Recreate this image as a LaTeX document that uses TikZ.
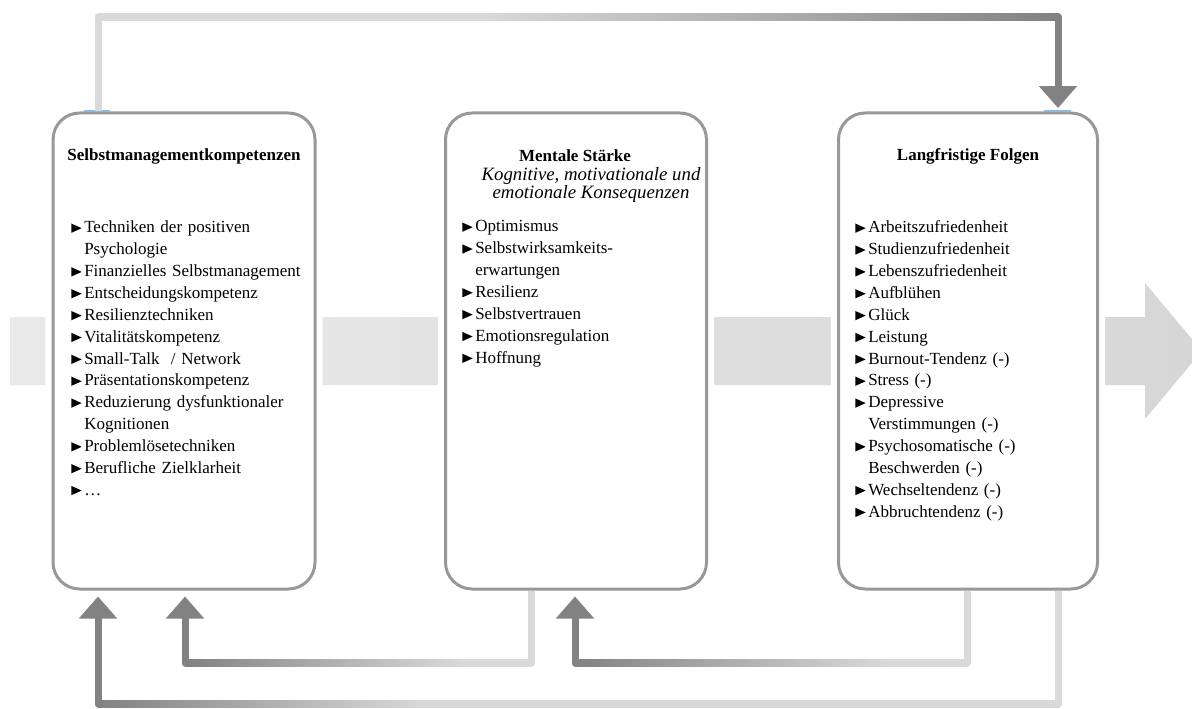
\documentclass[tikz,border=0pt]{standalone}
\usepackage{fontspec}
\setmainfont{Liberation Serif}
\usetikzlibrary{arrows.meta,calc}
\definecolor{boxc}{HTML}{989898}
\definecolor{darkc}{HTML}{828282}
\definecolor{lightc}{HTML}{D9D9D9}
\definecolor{bandL}{HTML}{EAEAEA}
\definecolor{bandR}{HTML}{D6D6D6}
\definecolor{markc}{HTML}{8DB8E2}
\pgfdeclarehorizontalshading{topgrad}{100bp}{color(0bp)=(lightc); color(25bp)=(lightc); color(45bp)=(lightc); color(75bp)=(darkc); color(100bp)=(darkc)}
\pgfdeclarehorizontalshading{gradA}{100bp}{color(0bp)=(darkc); color(25bp)=(darkc); color(42bp)=(lightc); color(100bp)=(lightc)}
\pgfdeclarehorizontalshading{gradB}{100bp}{color(0bp)=(darkc); color(25bp)=(darkc); color(65bp)=(lightc); color(100bp)=(lightc)}
\newlength\hangw
\setlength\hangw{9.75pt}
\newcommand\blt{\tikz[baseline=0pt]\fill[black] (0pt,0pt)--(0pt,7pt)--(7.8pt,3.5pt)--cycle;}
\newcommand\itm[1]{\par\noindent\hangindent=\hangw\hangafter=1\makebox[\hangw][l]{\blt}\strut#1}
\newcommand\nl{\hfil\break}
\begin{document}
\begin{tikzpicture}[x=0.75pt,y=-0.75pt,
  box/.style={draw=boxc, line width=2.25pt, fill=white, rounded corners=20pt,
    preaction={draw=white, line width=11.5pt}, inner sep=0pt},
  conn/.style={line width=5.25pt, line join=round},
  tip/.style={-{Triangle[length=16.5pt,width=27.75pt]}},
  titlen/.style={anchor=base, inner sep=0pt, font=\fontsize{12.75pt}{16.4pt}\selectfont\bfseries},
  subn/.style={anchor=base, inner sep=0pt, font=\fontsize{14.1pt}{16pt}\selectfont\itshape},
  listn/.style={anchor=north west, inner sep=0pt, text width=180pt, align=left,
    font=\fontsize{12.75pt}{16.4pt}\selectfont}]
\useasboundingbox (0,0) rectangle (1192,709);
% background arrow
\shade[left color=bandL, right color=bandR] (10,317) -- (1145,317) -- (1145,283) -- (1202,351) -- (1145,419) -- (1145,385) -- (10,385) -- cycle;
% boxes
\node[box, minimum width=262*0.75pt, minimum height=476*0.75pt] (b1) at (184,351) {};
\node[box, minimum width=261*0.75pt, minimum height=476*0.75pt] (b2) at (576,351) {};
\node[box, minimum width=259*0.75pt, minimum height=476*0.75pt] (b3) at (968,351) {};
\draw[markc, line width=1.2pt] (84,111) -- (110,111);
\draw[markc, line width=1.2pt] (1044,111) -- (1071,111);
% coordinates
\coordinate (xa) at (98,0);
\coordinate (xb) at (185,0);
\coordinate (xc) at (531,0);
\coordinate (xd) at (575,0);
\coordinate (xe) at (967,0);
\coordinate (xf) at (1058,0);
\coordinate (yt) at (0,17);
\coordinate (ym) at (0,663);
\coordinate (yb) at (0,704);
% top connector b1 -> b3
\draw[conn, lightc] (b1.north -| xa) -- (xa |- yt) -- ($(xa |- yt)+(1,0)$);
\shade[shading=topgrad] ($(xa |- yt)+(0,-3.5)$) rectangle ($(xf |- yt)+(0,3.5)$);
\draw[conn, darkc, tip, shorten >=2.6pt] ($(xf |- yt)+(-1,0)$) -- (xf |- yt) -- (b3.north -| xf);
% bottom long connector b3 -> b1
\draw[conn, lightc] (b3.south -| xf) -- (xf |- yb) -- ($(xf |- yb)+(-1,0)$);
\shade[shading=gradA] ($(xa |- yb)+(0,-3.5)$) rectangle ($(xf |- yb)+(0,3.5)$);
\draw[conn, darkc, tip, shorten >=4.5pt] ($(xa |- yb)+(1,0)$) -- (xa |- yb) -- (b1.south -| xa);
% b2 -> b1
\draw[conn, lightc] (b2.south -| xc) -- (xc |- ym) -- ($(xc |- ym)+(-1,0)$);
\shade[shading=gradB] ($(xb |- ym)+(0,-3.5)$) rectangle ($(xc |- ym)+(0,3.5)$);
\draw[conn, darkc, tip, shorten >=4.5pt] ($(xb |- ym)+(1,0)$) -- (xb |- ym) -- (b1.south -| xb);
% b3 -> b2
\draw[conn, lightc] (b3.south -| xe) -- (xe |- ym) -- ($(xe |- ym)+(-1,0)$);
\shade[shading=gradB] ($(xd |- ym)+(0,-3.5)$) rectangle ($(xe |- ym)+(0,3.5)$);
\draw[conn, darkc, tip, shorten >=4.5pt] ($(xd |- ym)+(1,0)$) -- (xd |- ym) -- (b2.south -| xd);
% texts box 1
\node[titlen] (t1) at (184,161) {Selbstmanagementkompetenzen};
\node[listn] (l1) at (71,210.7) {%
\itm{Techniken der positiven\nl Psychologie}
\itm{Finanzielles Selbstmanagement}
\itm{Entscheidungskompetenz}
\itm{Resilienztechniken}
\itm{Vitalitätskompetenz}
\itm{Small-Talk \ / Network}
\itm{Präsentationskompetenz}
\itm{Reduzierung dysfunktionaler\nl Kognitionen}
\itm{Problemlösetechniken}
\itm{Berufliche Zielklarheit}
\itm{…}};
% texts box 2
\node[titlen] (t2) at (575,162) {Mentale Stärke};
\node[subn] (s2a) at (591,181) {Kognitive, motivationale und};
\node[subn] (s2b) at (591,199) {emotionale Konsequenzen};
\node[listn] (l2) at (462,209.7) {%
\itm{Optimismus}
\itm{Selbstwirksamkeits-\nl erwartungen}
\itm{Resilienz}
\itm{Selbstvertrauen}
\itm{Emotionsregulation}
\itm{Hoffnung}};
% texts box 3
\node[titlen] (t3) at (968,161) {Langfristige Folgen};
\node[listn] (l3) at (855,210.7) {%
\itm{Arbeitszufriedenheit}
\itm{Studienzufriedenheit}
\itm{Lebenszufriedenheit}
\itm{Aufblühen}
\itm{Glück}
\itm{Leistung}
\itm{Burnout-Tendenz (-)}
\itm{Stress (-)}
\itm{Depressive\nl Verstimmungen (-)}
\itm{Psychosomatische (-)\nl Beschwerden (-)}
\itm{Wechseltendenz (-)}
\itm{Abbruchtendenz (-)}};
\end{tikzpicture}
\end{document}
